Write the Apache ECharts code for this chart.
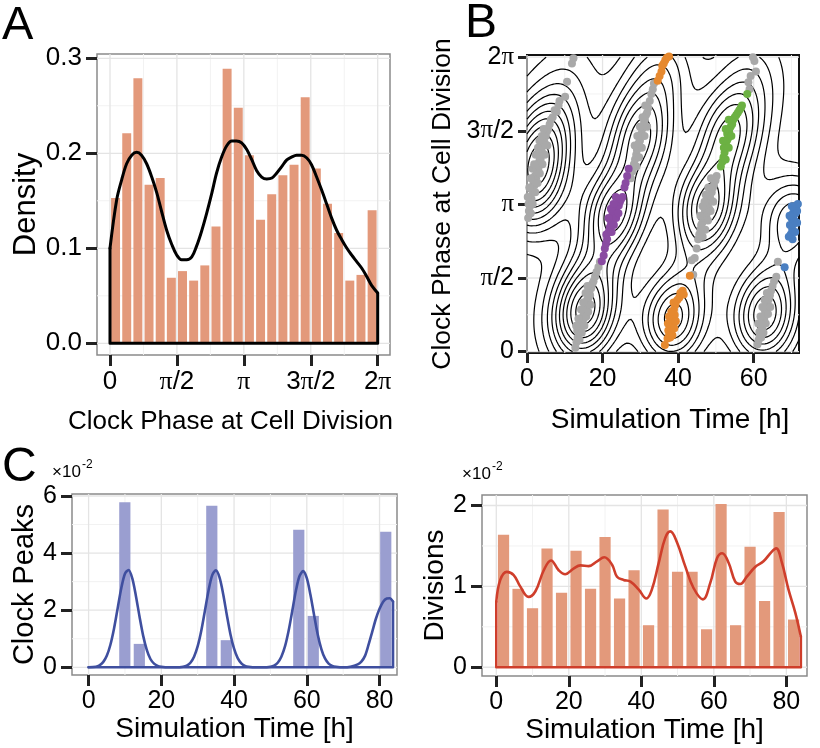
<!DOCTYPE html>
<html><head><meta charset="utf-8">
<script src="https://cdn.jsdelivr.net/npm/echarts@6/dist/echarts.min.js"></script>
<style>html,body{margin:0;padding:0;background:#fff}#c{width:820px;height:748px}</style>
</head><body><div id="c"></div>
<script>
const PI = Math.PI;
// ---------- Panel A ----------
const PHASE_TICKS = [0, PI/2, PI, 3*PI/2, 2*PI];
const PHASE_TICK_LABELS = ['0','π/2','π','3π/2','2π'];
const PHASE_MINOR = [PI/4, 3*PI/4, 5*PI/4, 7*PI/4];
const DENSITY_TICKS = [0, 0.1, 0.2, 0.3];
const DENSITY_TICK_LABELS = ['0.0','0.1','0.2','0.3'];
const DENSITY_MINOR = [0.05, 0.15, 0.25];
const PHASE_HIST = [0.153,0.221,0.279,0.167,0.174,0.069,0.076,0.066,0.082,0.123,0.289,0.248,0.198,0.130,0.157,0.177,0.188,0.259,0.184,0.147,0.116,0.066,0.072,0.140];
const PHASE_KDE_X = [0,0.157,0.274,0.39,0.51,0.626,0.74,0.86,0.98,1.10,1.21,1.33,1.45,1.565,1.68,1.80,1.92,2.03,2.15,2.27,2.39,2.50,2.62,2.74,2.86,2.97,3.09,3.21,3.33,3.44,3.56,3.68,3.80,3.91,4.03,4.15,4.26,4.38,4.50,4.62,4.73,4.85,4.97,5.09,5.20,5.32,5.44,5.56,5.67,5.79,5.91,6.03,6.14,6.283];
const PHASE_KDE_Y = [0.100,0.151,0.172,0.189,0.198,0.201,0.198,0.189,0.175,0.158,0.139,0.119,0.104,0.093,0.088,0.088,0.091,0.102,0.118,0.137,0.158,0.179,0.196,0.208,0.213,0.213,0.211,0.204,0.193,0.182,0.175,0.173,0.174,0.179,0.186,0.193,0.196,0.198,0.198,0.195,0.188,0.175,0.161,0.146,0.132,0.119,0.109,0.100,0.093,0.086,0.079,0.070,0.061,0.053];

// ---------- Panel B (time h, phase rad) ----------
const TIME_TICKS_B = [0,20,40,60];
const TIME_MINOR_B = [10,30,50,70];
const B_GRAY = [
 [0.3,2.85],[0.5,3.0],[0.4,3.15],[0.8,3.1],[0.9,3.3],[1.2,3.25],[1.3,3.45],[1.6,3.4],[1.7,3.6],[2.0,3.55],[2.1,3.75],[2.4,3.7],[2.6,3.85],[2.8,3.95],[3.0,3.9],[3.2,4.05],[3.4,4.15],[3.6,4.1],[3.8,4.3],[4.0,4.25],[4.2,4.4],[4.5,4.5],[4.7,4.45],[5.0,4.6],[5.3,4.7],[5.6,4.75],[6.0,4.85],[6.3,4.95],[6.8,5.0],[7.3,5.15],[7.9,5.12],[8.35,5.26],[8.6,5.35],[10.1,5.44],[10.6,5.76],[11.9,6.15],[12.3,6.26],
 [0.2,3.3],[0.6,3.5],[1.0,3.7],[1.5,3.9],[1.9,4.0],[2.3,4.2],[2.9,4.35],[3.3,4.5],[3.9,4.6],[4.4,4.75],[1.0,2.95],[1.5,3.15],[2.2,3.4],[2.8,3.6],[3.4,3.8],[4.1,4.0],[4.7,4.2],[5.4,4.4],
 [12.8,0.08],[13.1,0.2],[13.4,0.3],[13.3,0.45],[13.7,0.4],[14.0,0.55],[14.2,0.5],[14.4,0.65],[14.6,0.6],[14.8,0.75],[15.0,0.7],[15.1,0.85],[15.3,0.8],[15.5,0.9],[15.6,0.95],[15.8,1.0],[15.9,1.1],[16.1,1.05],[16.3,1.15],[16.5,1.25],[16.7,1.2],[17.0,1.35],[17.3,1.45],[17.6,1.5],[18.0,1.6],[18.4,1.7],[18.9,1.8],[19.3,1.92],
 [13.9,0.25],[14.5,0.4],[15.2,0.55],[15.7,0.75],[16.2,0.85],[16.8,1.0],[13.0,0.55],[13.6,0.7],[14.3,0.9],[14.9,1.05],[15.5,1.25],[16.0,1.4],
 [27.5,3.7],[27.9,3.85],[28.3,4.0],[28.6,4.1],[28.9,4.2],[29.1,4.3],[29.4,4.35],[29.6,4.45],[29.9,4.5],[30.1,4.6],[30.3,4.65],[30.5,4.75],[30.8,4.8],[31.0,4.9],[31.2,4.95],[31.5,5.05],[31.8,5.1],[32.1,5.2],[32.5,5.35],[32.9,5.5],[33.3,5.6],[33.6,5.72],
 [29.0,3.95],[29.7,4.15],[30.4,4.35],[31.1,4.6],[31.8,4.8],[28.5,4.4],[29.2,4.6],[29.9,4.8],[30.6,5.0],[31.3,5.25],
 [44.0,1.64],[43.6,1.95],[44.4,2.0],[44.9,2.2],[45.3,2.4],[45.6,2.5],[45.9,2.6],[46.1,2.7],[46.4,2.75],[46.6,2.85],[46.9,2.9],[47.1,3.0],[47.4,3.0],[47.6,3.1],[47.9,3.15],[48.1,3.2],[48.4,3.3],[48.6,3.25],[48.9,3.4],[49.2,3.5],[49.5,3.55],[49.9,3.65],[50.2,3.75],[47.0,3.2],[47.5,2.9],[48.2,3.05],
 [46.5,2.45],[47.2,2.6],[47.9,2.8],[48.6,3.0],[49.3,3.2],[45.9,2.9],[46.5,3.1],[47.3,3.35],[48.0,3.5],[48.7,3.7],
 [58.9,5.6],[58.6,5.75],[59.2,5.88],[60.6,5.98],[60.2,6.2],[59.8,6.28],
 [61.0,0.15],[61.3,0.25],[61.6,0.32],[61.5,0.42],[61.9,0.45],[62.1,0.55],[62.3,0.5],[62.5,0.62],[62.4,0.72],[62.8,0.7],[63.0,0.8],[62.9,0.9],[63.3,0.88],[63.5,0.98],[63.7,1.05],[64.0,1.12],[64.3,1.2],[64.6,1.3],[65.0,1.4],[65.4,1.5],[66.0,1.6],[66.4,1.92],
 [62.0,0.3],[62.6,0.4],[63.2,0.6],[63.8,0.8],[64.4,0.95],[61.2,0.6],[61.8,0.75],[62.3,0.95],[62.9,1.1],[63.5,1.25]
];
const B_PURPLE = [[19.8,1.93],[20.3,2.05],[20.6,2.2],[20.9,2.3],[21.2,2.4],[21.0,2.5],[21.6,2.55],[21.9,2.65],[22.2,2.7],[22.0,2.82],[22.5,2.8],[22.8,2.9],[22.6,2.98],[23.1,2.95],[23.3,3.05],[23.6,3.0],[23.8,3.1],[24.0,3.15],[24.3,3.12],[24.6,3.2],[24.9,3.25],[25.3,3.3],[25.8,3.5],[26.1,3.6],[26.5,3.75],[26.9,3.9],
 [22.4,2.55],[23.0,2.7],[23.6,2.85],[24.2,2.95],[21.6,2.85],[22.2,3.05],[22.9,3.15],[23.5,3.3]];
const B_ORANGE = [[34.6,5.78],[35.1,5.88],[35.6,5.98],[35.8,6.1],[36.2,6.15],[36.6,6.22],[37.0,6.27],[37.6,6.3],
 [36.5,0.14],[37.2,0.28],[37.6,0.35],[37.9,0.3],[37.4,0.45],[37.8,0.5],[38.1,0.42],[38.3,0.55],[38.0,0.62],[38.6,0.6],[38.4,0.7],[38.9,0.68],[38.7,0.8],[39.1,0.78],[38.9,0.9],[39.3,1.0],[39.8,1.1],[40.3,1.15],[40.6,1.25],[41.2,1.3],[41.5,1.22],[43.1,1.62],
 [37.3,0.6],[37.6,0.75],[38.2,0.85],[38.5,0.35],[39.0,0.5],[39.4,0.65],[38.8,1.05]];
const B_GREEN = [[51.3,3.95],[51.7,4.05],[52.0,4.15],[52.3,4.25],[52.1,4.35],[52.6,4.4],[52.9,4.5],[53.2,4.55],[53.0,4.65],[53.5,4.7],[53.9,4.8],[54.3,4.85],[54.6,4.95],[55.0,5.0],[55.4,5.05],[55.8,5.1],[56.2,5.15],[56.6,5.2],[56.9,5.25],[58.3,5.5],
 [52.6,4.1],[53.4,4.35],[54.1,4.6],[51.9,4.5],[52.6,4.75],[53.4,4.95]];
const B_BLUE = [[68.2,1.8],[69.3,2.45],[69.8,2.5],[70.2,2.6],[69.6,2.7],[70.5,2.72],[70.0,2.85],[70.8,2.8],[70.4,2.95],[71.1,2.95],[70.9,3.05],[71.5,3.0],[71.3,3.12],[71.7,3.15],
 [70.3,2.4],[71.0,2.55],[71.5,2.75],[69.5,2.9],[70.1,3.1]];

// ---------- Panel C ----------
const TIME_TICKS_C = [0,20,40,60,80];
const TIME_MINOR_C = [10,30,50,70];
const TIME_END = 83.7;
const CLOCK_TICKS = [0,2,4,6];
const CLOCK_MINOR = [1,3,5];
const CLOCK_HIST = [0,0,5.78,0.82,0,0,0,0,5.66,0.95,0,0,0,0,4.82,1.80,0,0,0,0,4.75];
const CLOCK_KDE_T = [0,2,3,4,5,6,7,8,9,10,11,12,13,14,15,16,17,18,19,20,22,24,26,27,28,29,30,31,32,33,34,35,36,37,38,39,40,41,42,43,44,46,48,50,51,52,53,54,55,56,57,58,59,60,61,62,63,64,65,66,67,68,70,72,74,75,76,77,78,79,80,81,82,82.8,83.7];
const CLOCK_KDE_V = [0,0.02,0.07,0.18,0.40,0.79,1.36,2.07,2.78,3.28,3.41,3.12,2.51,1.78,1.11,0.61,0.29,0.13,0.05,0.02,0,0,0.02,0.06,0.16,0.37,0.74,1.29,1.99,2.70,3.23,3.40,3.15,2.57,1.84,1.16,0.65,0.32,0.14,0.05,0.02,0,0,0.02,0.06,0.16,0.37,0.73,1.28,1.97,2.68,3.20,3.37,3.12,2.54,1.83,1.15,0.64,0.31,0.13,0.05,0.02,0,0.02,0.1,0.2,0.4,0.8,1.25,1.7,2.05,2.3,2.41,2.42,2.3];
const DIV_TICKS = [0,1,2];
const DIV_MINOR = [0.5,1.5];
const DIV_HIST = [1.64,0.97,0.73,1.47,0.92,1.44,0.97,1.61,0.85,1.20,0.52,1.95,1.18,1.18,0.47,2.02,0.52,1.49,0.82,1.92,0.59];
const DIV_KDE_T = [0,1.1,2.9,4.8,6.6,8.9,10.8,13.1,15.1,17.2,19,21.3,23.2,25.5,27.8,29.8,31.9,33.3,35.1,37,39.3,41.4,42.9,44.8,46.6,48,49.8,52.1,54.4,57,59,60.9,62.3,64.1,65.9,67.3,69.1,71.4,73.7,76,77.2,78.8,80.6,82.5,84];
const DIV_KDE_V = [0.81,1.08,1.18,1.14,1.0,0.87,0.94,1.2,1.32,1.2,1.15,1.22,1.26,1.25,1.31,1.36,1.27,1.12,1.08,1.06,0.96,0.85,0.96,1.29,1.6,1.68,1.55,1.25,0.98,0.84,1.04,1.35,1.41,1.29,1.06,1.03,1.12,1.24,1.31,1.43,1.47,1.29,0.96,0.67,0.38];

// ---------- styling ----------
const FONT = 'Liberation Sans';
const SERIF = 'Liberation Serif';
const MAJOR = '#e4e4e4', MINORC = '#f2f2f2';
const SALMON = '#e3997b', LAVENDER = '#9a9ed0';

function zip(a,b){ return a.map((v,i)=>[v,b[i]]); }
function piRich(s){ return s.replace(/π/g,'{p|π}'); }

function axis(o){
  return {
    type:'value', gridIndex:o.grid, min:o.min, max:o.max,
    axisLine:{show:false, onZero:false}, splitLine:{show:false},
    axisTick:{show:true, customValues:o.ticks, length:o.tl||11, lineStyle:{color:'#222', width:3}},
    axisLabel:{show:true, customValues:o.ticks, margin:o.margin, fontSize:o.fs, fontFamily:FONT, color:'#000',
      formatter:(v)=>{ const i=o.ticks.findIndex(t=>Math.abs(t-v)<1e-6); return i>=0?piRich(o.labels[i]):''; },
      rich:{p:{fontFamily:SERIF, fontSize:o.fs, color:'#000'}}},
    name:o.name, nameLocation:'middle', nameGap:o.gap,
    nameTextStyle:{fontSize:o.nfs, fontFamily:FONT, color:'#000', padding:o.pad||0}
  };
}

function gridLines(gi, xMaj, xMin, yMaj, yMin){
  return {type:'custom', xAxisIndex:gi, yAxisIndex:gi, silent:true, z:1, data:[[0,0]],
    renderItem:(params, api)=>{
      const cs = params.coordSys, ch=[];
      const add=(vals,isX,color,w)=>vals.forEach(v=>{
        if(isX){ const x=api.coord([v,0])[0]; ch.push({type:'line',shape:{x1:x,y1:cs.y,x2:x,y2:cs.y+cs.height},style:{stroke:color,lineWidth:w}}); }
        else { const y=api.coord([0,v])[1]; ch.push({type:'line',shape:{x1:cs.x,y1:y,x2:cs.x+cs.width,y2:y},style:{stroke:color,lineWidth:w}}); }
      });
      add(xMin,true,MINORC,1); add(yMin,false,MINORC,1); add(xMaj,true,MAJOR,1.3); add(yMaj,false,MAJOR,1.3);
      return {type:'group', children:ch};
    }};
}

function histSeries(gi, start, width, values, color, gap){
  const data = values.map((v,i)=>[start+i*width, start+(i+1)*width, v]);
  return {type:'custom', xAxisIndex:gi, yAxisIndex:gi, z:2, silent:true, data, encode:{x:[0,1], y:2},
    renderItem:(params, api)=>{
      const a=api.coord([api.value(0),0]), b=api.coord([api.value(1),api.value(2)]);
      return {type:'rect', shape:{x:a[0]+gap/2, y:b[1], width:Math.max(0,b[0]-a[0]-gap), height:a[1]-b[1]}, style:{fill:color}};
    }};
}

function lineSeries(gi, data, color, w, smooth){
  return {type:'line', xAxisIndex:gi, yAxisIndex:gi, data, showSymbol:false, symbol:'none', smooth:smooth, z:3, silent:true,
    lineStyle:{color, width:w, cap:'round', join:'round'}};
}

// ---------- 2D KDE + marching squares for panel B ----------
const ALL_B = B_GRAY.concat(B_PURPLE, B_ORANGE, B_GREEN, B_BLUE);
function contours(points, x0,x1,y0,y1,nx,ny,hx,hy,nLevels){
  const xs=[], ys=[], z=[];
  for(let i=0;i<=nx;i++) xs.push(x0+(x1-x0)*i/nx);
  for(let j=0;j<=ny;j++) ys.push(y0+(y1-y0)*j/ny);
  let zmax=0;
  for(let j=0;j<=ny;j++){ const row=[]; for(let i=0;i<=nx;i++){ let s=0;
      for(const p of points){ const dx=(xs[i]-p[0])/hx, dy=(ys[j]-p[1])/hy; s+=Math.exp(-0.5*(dx*dx+dy*dy)); }
      row.push(s); if(s>zmax) zmax=s; } z.push(row); }
  const step=zmax/nLevels;
  const levels=[]; for(let k=1;k<nLevels;k++) levels.push(k*step);
  const out=[];
  for(const L of levels){
    const pts={}, adj={};
    const ekey=(t,i,j)=>t+i+'_'+j;
    const hpt=(i,j)=>{ const a=z[j][i], b=z[j][i+1], t=(L-a)/(b-a); return [xs[i]+t*(xs[i+1]-xs[i]), ys[j]]; };
    const vpt=(i,j)=>{ const a=z[j][i], b=z[j+1][i], t=(L-a)/(b-a); return [xs[i], ys[j]+t*(ys[j+1]-ys[j])]; };
    const link=(k1,p1,k2,p2)=>{ pts[k1]=p1; pts[k2]=p2; (adj[k1]=adj[k1]||[]).push(k2); (adj[k2]=adj[k2]||[]).push(k1); };
    for(let j=0;j<ny;j++) for(let i=0;i<nx;i++){
      const a=z[j][i], b=z[j][i+1], c=z[j+1][i+1], d=z[j+1][i];
      const e0 = (a>=L)!==(b>=L) ? [ekey('h',i,j), hpt(i,j)] : null;
      const e1 = (b>=L)!==(c>=L) ? [ekey('v',i+1,j), vpt(i+1,j)] : null;
      const e2 = (d>=L)!==(c>=L) ? [ekey('h',i,j+1), hpt(i,j+1)] : null;
      const e3 = (a>=L)!==(d>=L) ? [ekey('v',i,j), vpt(i,j)] : null;
      const list=[e0,e1,e2,e3].filter(Boolean);
      if(list.length===2) link(list[0][0],list[0][1],list[1][0],list[1][1]);
      else if(list.length===4){
        const ctr=(a+b+c+d)/4;
        if((a>=L)===(ctr>=L)){ link(e0[0],e0[1],e1[0],e1[1]); link(e2[0],e2[1],e3[0],e3[1]); }
        else { link(e0[0],e0[1],e3[0],e3[1]); link(e1[0],e1[1],e2[0],e2[1]); }
      }
    }
    const used={};
    const walk=(start)=>{ const chain=[start]; used[start]=true; let cur=start;
      while(true){ const nb=(adj[cur]||[]).find(k=>!used[k]); if(!nb) break; used[nb]=true; chain.push(nb); cur=nb; }
      return chain; };
    for(const k in adj){ if(!used[k] && adj[k].length===1){ out.push(walk(k).map(q=>pts[q])); } }
    for(const k in adj){ if(!used[k]){ const ch=walk(k); ch.push(ch[0]); out.push(ch.map(q=>pts[q])); } }
  }
  return out;
}
const B_CONTOURS = contours(ALL_B, 0,72,0,2*PI, 120,120, 6.0,0.6, 11);

// ---------- chart ----------
const chart = echarts.init(document.getElementById('c'), null, {width:820, height:748});
const gridStyle = (l,t,w,h,bc,bw)=>({left:l, top:t, width:w, height:h, show:true, backgroundColor:'#fff', borderColor:bc, borderWidth:bw, containLabel:false});
const binW = TIME_END/CLOCK_HIST.length;
const txt = (text, left, top, size)=>({type:'text', left, top, style:{text, font:size+'px "Liberation Sans"', fill:'#000'}});

const option = {
  animation:false,
  grid:[gridStyle(97,54,293,301,'#8a8a8a',1.5), gridStyle(527,55,272,298,'#111',2), gridStyle(72,494,325,181,'#8a8a8a',1.5), gridStyle(482,495,325,181,'#8a8a8a',1.5)],
  xAxis:[
    axis({grid:0,min:-0.305,max:6.572,ticks:PHASE_TICKS,labels:PHASE_TICK_LABELS,margin:14,fs:26,name:'Clock Phase at Cell Division',gap:54,nfs:26,pad:[0,26,0,0]}),
    axis({grid:1,min:0,max:72,ticks:TIME_TICKS_B,labels:TIME_TICKS_B.map(String),margin:14,fs:25,name:'Simulation Time [h]',gap:53,nfs:28,pad:[0,0,0,14],tl:10}),
    axis({grid:2,min:-4.56,max:84.8,ticks:TIME_TICKS_C,labels:TIME_TICKS_C.map(String),margin:14,fs:25,name:'Simulation Time [h]',gap:34,nfs:28}),
    axis({grid:3,min:-3.94,max:85.7,ticks:TIME_TICKS_C,labels:TIME_TICKS_C.map(String),margin:14,fs:25,name:'Simulation Time [h]',gap:34,nfs:28})
  ],
  yAxis:[
    axis({grid:0,min:-0.0123,max:0.3045,ticks:DENSITY_TICKS,labels:DENSITY_TICK_LABELS,margin:15,fs:26,name:'Density',gap:53,nfs:31}),
    axis({grid:1,min:-0.03,max:6.33,ticks:PHASE_TICKS,labels:PHASE_TICK_LABELS,margin:13,fs:25,name:'Clock Phase at Cell Division',gap:71,nfs:26.5,tl:9}),
    axis({grid:2,min:-0.27,max:6.07,ticks:CLOCK_TICKS,labels:CLOCK_TICKS.map(String),margin:15,fs:25,name:'Clock Peaks',gap:31,nfs:29}),
    axis({grid:3,min:-0.108,max:2.13,ticks:DIV_TICKS,labels:DIV_TICKS.map(String),margin:15,fs:25,name:'Divisions',gap:31,nfs:28})
  ],
  series:[
    gridLines(0, PHASE_TICKS, PHASE_MINOR, DENSITY_TICKS, DENSITY_MINOR),
    gridLines(1, TIME_TICKS_B, TIME_MINOR_B, PHASE_TICKS, PHASE_MINOR),
    gridLines(2, TIME_TICKS_C, TIME_MINOR_C, CLOCK_TICKS, CLOCK_MINOR),
    gridLines(3, TIME_TICKS_C, TIME_MINOR_C, DIV_TICKS, DIV_MINOR),
    // A
    histSeries(0, 0, 2*PI/PHASE_HIST.length, PHASE_HIST, SALMON, 2.2),
    lineSeries(0, zip(PHASE_KDE_X, PHASE_KDE_Y), '#000', 3, 0.35),
    lineSeries(0, [[PHASE_KDE_X[0],PHASE_KDE_Y[0]],[PHASE_KDE_X[0],0],[PHASE_KDE_X[PHASE_KDE_X.length-1],0],[PHASE_KDE_X[PHASE_KDE_X.length-1],PHASE_KDE_Y[PHASE_KDE_Y.length-1]]], '#000', 3, false),
    // B
    {type:'lines', coordinateSystem:'cartesian2d', xAxisIndex:1, yAxisIndex:1, polyline:true, silent:true, z:3,
      data:B_CONTOURS.map(c=>({coords:c})), lineStyle:{color:'#000', width:1.2, opacity:1}},
    {type:'scatter', xAxisIndex:1, yAxisIndex:1, data:B_GRAY, symbolSize:8, itemStyle:{color:'#a9a9a9', opacity:1}, z:4, silent:true},
    {type:'scatter', xAxisIndex:1, yAxisIndex:1, data:B_PURPLE, symbolSize:8, itemStyle:{color:'#8a4ba2', opacity:1}, z:4, silent:true},
    {type:'scatter', xAxisIndex:1, yAxisIndex:1, data:B_ORANGE, symbolSize:8, itemStyle:{color:'#e6892f', opacity:1}, z:4, silent:true},
    {type:'scatter', xAxisIndex:1, yAxisIndex:1, data:B_GREEN, symbolSize:8, itemStyle:{color:'#6cb143', opacity:1}, z:4, silent:true},
    {type:'scatter', xAxisIndex:1, yAxisIndex:1, data:B_BLUE, symbolSize:8, itemStyle:{color:'#4a7fc1', opacity:1}, z:4, silent:true},
    // C left
    histSeries(2, 0, binW, CLOCK_HIST, LAVENDER, 3.3),
    lineSeries(2, zip(CLOCK_KDE_T, CLOCK_KDE_V), '#3f4f9f', 2.6, 0.3),
    lineSeries(2, [[0,0],[CLOCK_KDE_T[CLOCK_KDE_T.length-1],0],[CLOCK_KDE_T[CLOCK_KDE_T.length-1],CLOCK_KDE_V[CLOCK_KDE_V.length-1]]], '#3f4f9f', 2.6, false),
    // C right
    histSeries(3, 0, (DIV_KDE_T[DIV_KDE_T.length-1])/DIV_HIST.length, DIV_HIST, SALMON, 3.3),
    lineSeries(3, zip(DIV_KDE_T, DIV_KDE_V), '#cf3e2b', 2.6, 0.4),
    lineSeries(3, [[DIV_KDE_T[0],DIV_KDE_V[0]],[DIV_KDE_T[0],0],[DIV_KDE_T[DIV_KDE_T.length-1],0],[DIV_KDE_T[DIV_KDE_T.length-1],DIV_KDE_V[DIV_KDE_V.length-1]]], '#cf3e2b', 2.6, false)
  ],
  graphic:[
    txt('A', 2, 3, 47),
    txt('B', 465, 0, 48),
    txt('C', 2, 444, 48),
    txt('×10', 52, 464, 17), txt('-2', 82, 459, 12),
    txt('×10', 462, 466, 17), txt('-2', 492, 461, 12)
  ]
};
chart.setOption(option);
</script>
</body></html>
